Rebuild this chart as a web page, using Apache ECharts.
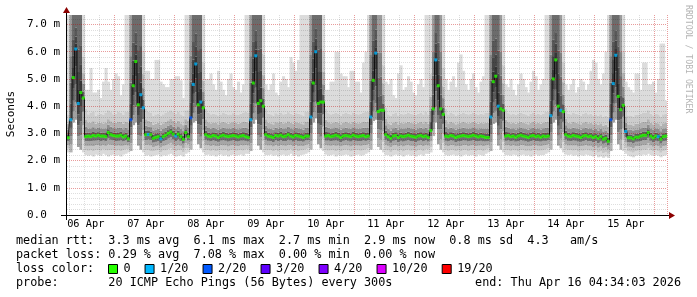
<!DOCTYPE html>
<html><head><meta charset="utf-8">
<script src="https://cdn.jsdelivr.net/npm/echarts@6/dist/echarts.min.js"></script>
<style>html,body{margin:0;padding:0;background:#fff}#c{width:697px;height:297px}</style>
</head><body><div id="c"></div>
<script>
// ---- data (hourly, starting Apr 6 05:00) ----
const START_UTC = Date.UTC(2026, 3, 6, 5);
const hours = Array.from({length: 240}, (_, i) => new Date(START_UTC + i * 3600e3).toISOString().slice(0, 13));
const monthNames = ['Jan','Feb','Mar','Apr','May','Jun','Jul','Aug','Sep','Oct','Nov','Dec'];

const medianMs = [
 2.84,3.50,5.05,6.10,4.10,4.50,4.30,2.88, 2.90,2.88,2.92,2.90,2.93,2.90,2.90,2.88, 3.03,2.95,2.92,2.90,2.90,2.93,2.87,2.90,
 2.80,3.50,4.75,5.64,4.05,4.42,3.94,2.95, 2.96,2.95,2.82,2.85,2.88,2.80,2.88,2.93, 3.00,3.05,2.97,2.90,2.97,2.88,2.78,3.03,
 2.88,3.57,4.80,5.55,4.05,4.15,3.94,2.95, 2.90,2.88,2.92,2.90,2.85,2.90,2.93,2.90, 2.88,2.90,2.92,2.90,2.87,2.90,2.92,2.88,
 2.85,3.50,4.85,5.85,4.10,4.20,4.00,2.95, 2.90,2.88,2.85,2.92,2.90,2.93,2.88,2.90, 2.95,2.90,2.87,2.92,2.90,2.88,2.85,2.90,
 2.90,3.60,4.85,6.00,4.10,4.15,4.15,2.90, 2.92,2.88,2.90,2.93,2.90,2.85,2.90,2.92, 2.90,2.88,2.93,2.90,2.88,2.90,2.92,2.88,
 2.90,3.60,4.95,5.95,3.80,3.85,3.85,2.95, 2.88,2.82,2.90,2.92,2.85,2.90,2.88,2.90, 2.93,2.90,2.88,2.86,2.90,2.92,2.88,2.90,
 2.85,3.10,3.90,5.70,4.75,3.90,3.70,2.90, 2.88,2.92,2.90,2.85,2.88,2.90,2.92,2.90, 2.88,2.90,2.93,2.90,2.87,2.90,2.88,2.85,
 2.85,3.60,4.90,5.10,4.00,3.90,3.85,2.90, 2.92,2.88,2.90,2.86,2.90,2.93,2.90,2.88, 2.85,2.90,2.92,2.88,2.90,2.86,2.90,2.88,
 2.90,3.65,5.00,5.70,4.00,3.85,3.80,2.95, 2.90,2.88,2.92,2.90,2.88,2.85,2.90,2.92, 2.88,2.90,2.85,2.88,2.82,2.88,2.79,2.82,
 2.71,3.50,4.83,5.87,4.36,3.87,4.03,3.07, 2.84,2.84,2.80,2.86,2.86,2.90,2.93,2.93, 3.03,2.90,2.84,2.90,2.88,2.79,2.88,2.90
];
// loss class index per hour (0 -> "0", 1 -> "1/20", 2 -> "2/20")
const lossIdx = [
 0,1,0,1,1,0,0,0, 0,0,0,0,0,0,0,0, 0,0,0,0,0,0,0,0,
 0,2,0,0,0,1,1,0, 1,0,0,0,0,1,0,0, 0,0,0,1,0,0,0,0,
 0,2,1,1,0,1,0,0, 0,0,0,0,0,0,0,0, 0,0,0,0,0,0,0,0,
 0,1,0,1,0,0,0,0, 0,0,0,0,0,0,0,0, 0,0,0,0,0,0,0,0,
 0,1,0,1,0,0,0,0, 0,0,0,0,0,0,0,0, 0,0,0,0,0,0,0,0,
 0,1,0,1,0,0,0,0, 0,0,0,0,0,0,0,0, 0,0,0,0,0,0,0,0,
 0,0,0,1,0,0,0,0, 0,0,0,0,0,0,0,0, 0,0,0,0,0,0,0,0,
 0,1,0,0,1,0,0,0, 0,0,0,0,0,0,0,0, 0,0,0,0,0,0,0,0,
 0,1,0,0,0,1,0,0, 0,0,0,0,0,0,0,0, 0,0,0,0,0,0,0,0,
 0,2,1,1,0,0,0,1, 0,0,0,0,0,0,0,0, 0,0,0,0,1,0,0,0
];
// smoke: lowest ping
const smokeMin = [
 2.30,2.30,3.40,3.50,2.50,2.40,2.30,2.20, 2.18,2.20,2.15,2.22,2.20,2.18,2.25,2.20, 2.15,2.20,2.22,2.18,2.20,2.15,2.22,2.25,
 2.30,2.35,3.30,3.40,2.55,2.40,2.30,2.18, 2.20,2.15,2.18,2.20,2.22,2.15,2.20,2.18, 2.22,2.25,2.20,2.15,2.18,2.20,2.15,2.25,
 2.30,2.40,3.40,3.45,2.60,2.45,2.30,2.20, 2.22,2.18,2.20,2.15,2.20,2.22,2.18,2.20, 2.15,2.20,2.22,2.18,2.20,2.22,2.18,2.25,
 2.25,2.35,3.35,3.50,2.55,2.40,2.30,2.20, 2.20,2.22,2.18,2.20,2.15,2.20,2.22,2.18, 2.20,2.25,2.18,2.20,2.15,2.20,2.22,2.25,
 2.30,2.40,3.40,3.55,2.60,2.45,2.35,2.22, 2.18,2.20,2.22,2.15,2.20,2.18,2.20,2.22, 2.20,2.15,2.18,2.20,2.22,2.18,2.20,2.25,
 2.30,2.40,3.45,3.50,2.50,2.40,2.30,2.20, 2.20,2.15,2.20,2.22,2.18,2.20,2.15,2.20, 2.22,2.18,2.20,2.15,2.20,2.22,2.18,2.25,
 2.25,2.30,2.90,3.40,2.60,2.40,2.30,2.20, 2.18,2.20,2.22,2.18,2.20,2.15,2.20,2.22, 2.18,2.20,2.20,2.15,2.22,2.20,2.18,2.25,
 2.30,2.35,3.35,3.40,2.55,2.40,2.30,2.20, 2.20,2.18,2.22,2.20,2.15,2.20,2.22,2.18, 2.20,2.15,2.20,2.22,2.18,2.20,2.20,2.25,
 2.30,2.40,3.40,3.50,2.55,2.45,2.30,2.22, 2.20,2.22,2.18,2.20,2.15,2.20,2.18,2.22, 2.20,2.18,2.15,2.20,2.12,2.15,2.10,2.15,
 2.10,2.35,3.40,3.50,2.60,2.40,2.35,2.25, 2.18,2.15,2.12,2.18,2.20,2.18,2.22,2.20, 2.25,2.20,2.18,2.20,2.18,2.12,2.18,2.20
];
// smoke: upper edge of the dense part
const smokeUpper = [
 3.70,7.40,7.40,7.40,7.40,7.40,5.80,3.90, 3.70,3.75,3.80,3.65,3.70,3.72,3.68,3.75, 3.85,3.78,3.70,3.72,3.80,3.75,3.68,3.80,
 3.80,7.40,7.40,7.40,7.40,7.40,6.00,3.90, 3.80,3.75,3.65,3.70,3.72,3.66,3.70,3.75, 3.80,3.85,3.78,3.72,3.80,3.70,3.65,3.85,
 3.85,7.40,7.40,7.40,7.40,7.40,5.60,3.90, 3.75,3.70,3.72,3.70,3.66,3.70,3.75,3.72, 3.68,3.70,3.74,3.70,3.68,3.72,3.75,3.80,
 3.75,7.40,7.40,7.40,7.40,7.40,5.90,3.90, 3.72,3.70,3.66,3.74,3.70,3.75,3.70,3.72, 3.78,3.72,3.68,3.74,3.72,3.70,3.66,3.80,
 3.80,7.40,7.40,7.40,7.40,7.40,6.00,3.90, 3.74,3.70,3.72,3.76,3.72,3.66,3.72,3.75, 3.72,3.70,3.76,3.72,3.70,3.72,3.75,3.80,
 3.80,7.40,7.40,7.40,7.40,7.40,5.50,3.95, 3.70,3.64,3.72,3.75,3.66,3.72,3.70,3.72, 3.76,3.72,3.70,3.68,3.72,3.75,3.70,3.80,
 3.70,5.20,7.40,7.40,7.40,7.40,5.40,3.90, 3.70,3.75,3.72,3.66,3.70,3.72,3.75,3.72, 3.70,3.72,3.76,3.72,3.68,3.72,3.70,3.75,
 3.75,7.40,7.40,7.40,7.40,7.40,5.50,3.90, 3.74,3.70,3.72,3.68,3.72,3.76,3.72,3.70, 3.66,3.72,3.75,3.70,3.72,3.68,3.72,3.80,
 3.80,7.40,7.40,7.40,7.40,7.40,5.60,3.95, 3.72,3.70,3.75,3.72,3.70,3.66,3.72,3.75, 3.70,3.72,3.66,3.70,3.64,3.70,3.60,3.65,
 3.60,7.40,7.40,7.40,7.40,7.40,6.00,4.00, 3.66,3.66,3.62,3.68,3.68,3.72,3.75,3.75, 3.85,3.72,3.66,3.72,3.70,3.62,3.70,3.72
];
// smoke: highest ping
const smokeMax = [
 7.40,7.40,7.40,7.40,7.40,7.40,7.40,4.60, 4.60,5.40,4.50,4.50,4.60,4.30,4.90,5.40, 4.90,4.60,5.00,5.20,5.10,4.40,4.80,7.40,
 7.40,7.40,7.40,7.40,7.40,7.40,7.40,5.30, 5.30,5.00,5.00,5.70,5.70,4.90,4.80,4.70, 4.70,5.00,5.00,5.10,5.10,4.95,4.30,7.40,
 7.40,7.40,7.40,7.40,7.40,7.40,7.40,5.00, 5.00,5.20,4.80,4.60,5.30,4.90,4.60,4.40, 5.00,5.20,4.70,4.60,4.90,4.50,4.80,7.40,
 7.40,7.40,7.40,7.40,7.40,7.40,7.40,4.80, 4.60,4.80,5.20,4.50,4.40,4.90,5.10,5.00, 4.70,5.80,5.60,5.30,5.70,7.40,7.40,7.40,
 7.40,7.40,7.40,7.40,7.40,7.40,7.40,4.60, 4.60,4.90,4.90,6.00,6.00,5.20,5.10,5.10, 4.70,5.30,5.30,4.90,4.90,4.50,5.60,6.00,
 7.40,7.40,7.40,7.40,7.40,7.40,7.40,4.90, 4.80,5.00,4.40,4.30,5.20,5.50,4.60,4.70, 5.10,4.90,4.50,4.40,4.80,5.00,4.70,7.40,
 7.40,7.40,7.40,7.40,7.40,7.40,7.40,5.00, 4.60,4.90,5.10,4.70,5.60,5.90,5.30,4.80, 4.60,5.00,5.20,4.70,4.50,4.90,5.10,7.40,
 7.40,7.40,7.40,7.40,7.40,7.40,7.40,4.80, 4.70,5.00,4.60,4.40,4.80,5.20,5.00,4.70, 4.50,4.90,5.30,5.10,4.60,4.80,5.00,7.40,
 7.40,7.40,7.40,7.40,7.40,7.40,7.40,4.80, 4.60,4.80,5.00,4.50,4.70,5.00,4.90,4.60, 4.80,5.30,5.70,5.60,5.00,4.80,5.20,6.00,
 7.40,7.40,7.40,7.40,7.40,7.40,7.40,4.90, 4.70,4.60,4.50,5.20,5.20,4.60,5.60,5.60, 4.80,4.80,4.90,4.50,5.00,6.30,6.30,4.20
];
const lossLabels = ['0','1/20','2/20','3/20','4/20','10/20','19/20'];
const lossColors = ['#26ff00','#00b8ff','#0059ff','#5e00ff','#7e00ff','#dd00ff','#ff0000'];
const legendLines = [
 'median rtt:  3.3 ms avg  6.1 ms max  2.7 ms min  2.9 ms now  0.8 ms sd  4.3   am/s',
 'packet loss: 0.29 % avg  7.08 % max  0.00 % min  0.00 % now',
 'loss color:',
 'probe:       20 ICMP Echo Pings (56 Bytes) every 300s'
];
const endText = 'end: Thu Apr 16 04:34:03 2026';

// ---- styling ----
const MONO = "'DejaVu Sans Mono', monospace";
const Y_MAX = 7.35;
const LOWER = ['#dadada','#c6c6c6','#a6a6a6','#707070'];
const UPPER = ['#5c5c5c','#8e8e8e','#b2b2b2','#cccccc'];
const LOWER_MID = ['#b4b4b4','#989898','#7a7a7a','#5a5a5a'];
const UPPER_MID = ['#5a5a5a','#6e6e6e','#848484','#9c9c9c'];
const LOWER_DARK = ['#a0a0a0','#7c7c7c','#5a5a5a','#404040'];
const UPPER_DARK = ['#363636','#464646','#585858','#6c6c6c'];
const UPPER_FR = [0, 0.15, 0.35, 0.6, 1];
const MINOR = 'rgba(0,0,0,0.13)';
const MAJOR = 'rgba(255,0,0,0.3)';

function renderSmoke(params, api) {
  const i = api.value(0);
  const lo = api.value(1), med = api.value(2), up = api.value(3), hi = api.value(4);
  const cx = api.coord([i, 0])[0];
  const bw = api.size([1, 0])[0];
  const x0 = cx - bw / 2, w = bw + 0.6;
  const Y = v => api.coord([i, Math.min(v, Y_MAX)])[1];
  const tall = up >= Y_MAX;
  const dark = tall && med >= 4.0;
  const kids = [];
  const band = (a, b, color) => {
    if (b <= a) return;
    const ya = Y(a), yb = Y(b);
    if (ya - yb <= 0) return;
    kids.push({type: 'rect', shape: {x: x0, y: yb, width: w, height: ya - yb}, style: {fill: color}});
  };
  band(up, hi, '#dcdcdc');
  const lc = dark ? LOWER_DARK : (tall ? LOWER_MID : LOWER);
  for (let k = 0; k < 4; k++) band(lo + (med - lo) * k / 4, lo + (med - lo) * (k + 1) / 4, lc[k]);
  const uc = dark ? UPPER_DARK : (tall ? UPPER_MID : UPPER);
  for (let k = 0; k < 4; k++) band(med + (up - med) * UPPER_FR[k], med + (up - med) * UPPER_FR[k + 1], uc[k]);
  return {type: 'group', children: kids};
}

const hourOf = i => (i < hours.length ? parseInt(hours[i].slice(11, 13), 10) : -1);

// ---- graphics (axes arrows, legend text) ----
const graphics = [];
graphics.push({type: 'line', z: 50, shape: {x1: 61, y1: 215.5, x2: 670, y2: 215.5}, style: {stroke: '#000', lineWidth: 1}});
graphics.push({type: 'line', z: 50, shape: {x1: 66.5, y1: 220, x2: 66.5, y2: 12}, style: {stroke: '#000', lineWidth: 1}});
graphics.push({type: 'polygon', z: 51, shape: {points: [[669, 212], [675, 215.5], [669, 219]]}, style: {fill: '#8b0000'}});
graphics.push({type: 'polygon', z: 51, shape: {points: [[63, 13], [66.5, 7], [70, 13]]}, style: {fill: '#8b0000'}});
graphics.push({type: 'text', z: 50, x: 11, y: 114, rotation: Math.PI / 2,
  style: {text: 'Seconds', x: 0, y: 0, font: '11px ' + MONO, fill: '#000', textAlign: 'center', align: 'center', textVerticalAlign: 'middle', verticalAlign: 'middle'}});
graphics.push({type: 'text', z: 50, x: 688, y: 5, rotation: -Math.PI / 2,
  style: {text: 'RRDTOOL / TOBI OETIKER', x: 0, y: 0, font: '8.2px ' + MONO, fill: '#b4b4b4', textAlign: 'left', align: 'left', textVerticalAlign: 'middle', verticalAlign: 'middle'}});
const rowY = [241, 255, 269, 283];
legendLines.forEach((t, r) => {
  graphics.push({type: 'text', z: 50, style: {text: t, x: 16, y: rowY[r], font: '11.8px ' + MONO, fill: '#000', textAlign: 'left', align: 'left', textVerticalAlign: 'middle', verticalAlign: 'middle'}});
});
graphics.push({type: 'text', z: 50, style: {text: endText, x: 681, y: rowY[3], font: '11.8px ' + MONO, fill: '#000', textAlign: 'right', align: 'right', textVerticalAlign: 'middle', verticalAlign: 'middle'}});
let lx = 108.5;
lossLabels.forEach((lab, k) => {
  graphics.push({type: 'rect', z: 50, shape: {x: lx, y: 264.5, width: 9, height: 9}, style: {fill: lossColors[k], stroke: '#000', lineWidth: 1}});
  graphics.push({type: 'text', z: 50, style: {text: lab, x: lx + 15, y: rowY[2], font: '11.8px ' + MONO, fill: '#000', textAlign: 'left', align: 'left', textVerticalAlign: 'middle', verticalAlign: 'middle'}});
  lx += 15 + lab.length * 7.15 + 14.4;
});

const chart = echarts.init(document.getElementById('c'), null, {renderer: 'canvas'});
chart.setOption({
  animation: false,
  backgroundColor: '#fff',
  grid: {left: 67, top: 15, width: 600, height: 200, containLabel: false},
  xAxis: [
    {type: 'category', data: hours, boundaryGap: true, z: 2,
     axisLine: {show: false}, axisTick: {show: false},
     axisLabel: {interval: (i) => hourOf(i) === 12, margin: 4, color: '#000', fontFamily: MONO, fontSize: 10.3,
       formatter: v => v.slice(8, 10) + ' ' + monthNames[parseInt(v.slice(5, 7), 10) - 1]},
     splitLine: {show: true, interval: (i) => hourOf(i) % 6 === 0, lineStyle: {color: MINOR, type: [1, 1], width: 1}}},
    {type: 'category', data: hours, boundaryGap: true, z: 2, position: 'bottom',
     axisLine: {show: false}, axisTick: {show: false}, axisLabel: {show: false},
     splitLine: {show: true, interval: (i) => hourOf(i) === 0, lineStyle: {color: MAJOR, type: [1, 1], width: 1}}}
  ],
  yAxis: [
    {type: 'value', min: 0, max: Y_MAX, interval: 0.2, z: 2,
     axisLine: {show: false}, axisTick: {show: false}, axisLabel: {show: false},
     splitLine: {show: true, showMaxLine: false, lineStyle: {color: MINOR, type: [1, 1], width: 1}}},
    {type: 'value', min: 0, max: Y_MAX, interval: 1, z: 2, position: 'left',
     axisLine: {show: false}, axisTick: {show: false},
     axisLabel: {showMaxLabel: false, margin: 7, color: '#000', fontFamily: MONO, fontSize: 11,
       formatter: v => v === 0 ? '0.0  ' : v.toFixed(1) + ' m'},
     splitLine: {show: true, showMaxLine: false, lineStyle: {color: MAJOR, type: [1, 1], width: 1}}}
  ],
  series: [
    {type: 'custom', name: 'smoke', xAxisIndex: 0, yAxisIndex: 0, z: 1, clip: true, silent: true,
     renderItem: renderSmoke, encode: {x: 0, y: [1, 2, 3, 4]},
     data: hours.map((_, i) => [i, smokeMin[i], medianMs[i], smokeUpper[i], smokeMax[i]])},
    {type: 'line', name: 'median', xAxisIndex: 0, yAxisIndex: 0, z: 3, step: 'middle', symbol: 'none', silent: true,
     lineStyle: {color: '#111', width: 1}, data: medianMs},
    {type: 'scatter', name: 'median loss', xAxisIndex: 0, yAxisIndex: 0, z: 4, symbol: 'rect', symbolSize: [3, 3], silent: true,
     itemStyle: {color: p => lossColors[lossIdx[p.dataIndex]]}, data: medianMs}
  ],
  graphic: graphics
});
</script>
</body></html>
